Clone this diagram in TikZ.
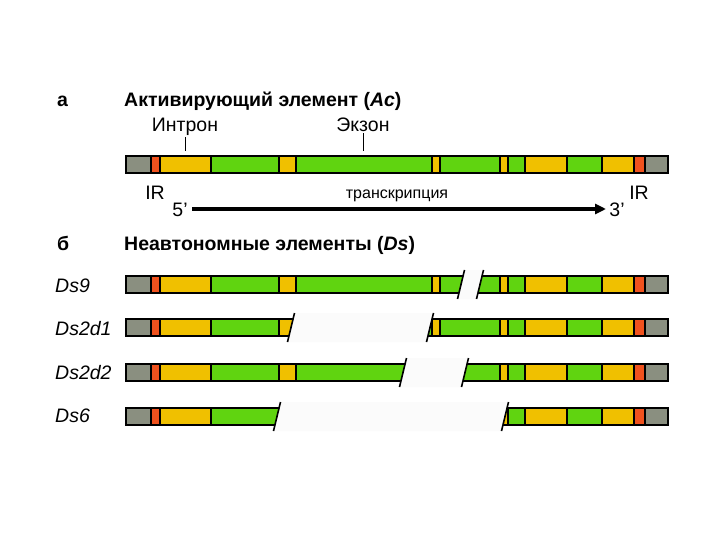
\documentclass[tikz,border=0pt]{standalone}
\usepackage{fontspec}
\setmainfont{Liberation Sans}
\usetikzlibrary{arrows.meta}

\definecolor{flankgray}{RGB}{138,143,128}
\definecolor{irred}{RGB}{240,82,30}
\definecolor{intronyel}{RGB}{240,192,0}
\definecolor{exongreen}{RGB}{96,212,16}

% segment list of the Ac element: left/right/fill (picture units = px)
\def\acsegs{126/151/flankgray, 151/160/irred, 160/211/intronyel,
  211/279/exongreen, 279/296/intronyel, 296/432/exongreen,
  432/440/intronyel, 440/500/exongreen, 500/508/intronyel,
  508/525/exongreen, 525/567/intronyel, 567/602/exongreen,
  602/634/intronyel, 634/645/irred, 645/668/flankgray}

% #1 = top of the bar
\newcommand\genebar[1]{%
  \foreach \xa/\xb/\col in \acsegs {
    \draw[seg, fill=\col] (\xa,#1) rectangle (\xb,#1+17);
  }}

% #1 = top of the bar, #2 = left break, #3 = right break
\newcommand\dsgap[3]{%
  \fill[gapfill] (#2+3.5,#1-6) -- (#3+3.5,#1-6) -- (#3-3.5,#1+23) -- (#2-3.5,#1+23) -- cycle;
  \draw[brk] (#2+3.5,#1-6) -- (#2-3.5,#1+23);
  \draw[brk] (#3+3.5,#1-6) -- (#3-3.5,#1+23);
}

\begin{document}
\begin{tikzpicture}[
  x=1pt, y=-1pt,
  every node/.style={inner sep=0pt},
  lbl/.style={font=\fontsize{19.5}{23}\selectfont, anchor=base},
  hdr/.style={font=\bfseries\fontsize{19.5}{23}\selectfont, anchor=base west},
  dslbl/.style={font=\itshape\fontsize{19.5}{23}\selectfont, anchor=base west},
  smalllbl/.style={font=\fontsize{16}{19}\selectfont, anchor=base},
  seg/.style={draw=black, line width=1.8pt},
  gapfill/.style={fill=black!1.5},
  brk/.style={draw=black, line width=1.6pt},
  tick/.style={draw=black, line width=0.6pt},
  tx/.style={line width=3.2pt, -{Triangle[length=11pt,width=10pt]}},
]
\fill[white] (0,0) rectangle (720,540);
\useasboundingbox (0,0) rectangle (720,540);

% ----- a: Ac element -----
\node[hdr] (lbla) at (57,107) {а};
\node[hdr] (achead) at (124,107) {Активирующий элемент (\textit{Ac})};
\node[lbl] (intronlbl) at (185,132) {Интрон};
\node[lbl] (exonlbl) at (363,132) {Экзон};
\coordinate (intronpt) at (185,151);
\coordinate (exonpt) at (363,151);
\draw[tick] ([yshift=-1pt]intronlbl.south) -- (intronpt);
\draw[tick] ([yshift=-1pt]exonlbl.south) -- (exonpt);

\genebar{156}

\node[lbl] (irleft) at (155,200) {IR};
\node[lbl] (irright) at (639,200) {IR};
\node[lbl] (five) at (180,217) {5’};
\node[lbl] (three) at (617,217) {3’};
\node[smalllbl] (txlbl) at (397,199) {транскрипция};
\coordinate (txstart) at (192,209);
\coordinate (txend) at (606,209);
\draw[tx] (txstart) -- (txend);

% ----- b: Ds elements -----
\node[hdr] (lblb) at (57,250) {б};
\node[hdr] (dshead) at (124,250) {Неавтономные элементы (\textit{Ds})};

\node[dslbl] (ds9) at (55,292) {Ds9};
\genebar{276}
\dsgap{276}{461}{480}

\node[dslbl] (ds2d1) at (55,335) {Ds2d1};
\genebar{319}
\dsgap{319}{291}{430}

\node[dslbl] (ds2d2) at (55,379) {Ds2d2};
\genebar{364}
\dsgap{364}{403}{465}

\node[dslbl] (ds6) at (55,422) {Ds6};
\genebar{408}
\dsgap{408}{277}{505}

\end{tikzpicture}
\end{document}
